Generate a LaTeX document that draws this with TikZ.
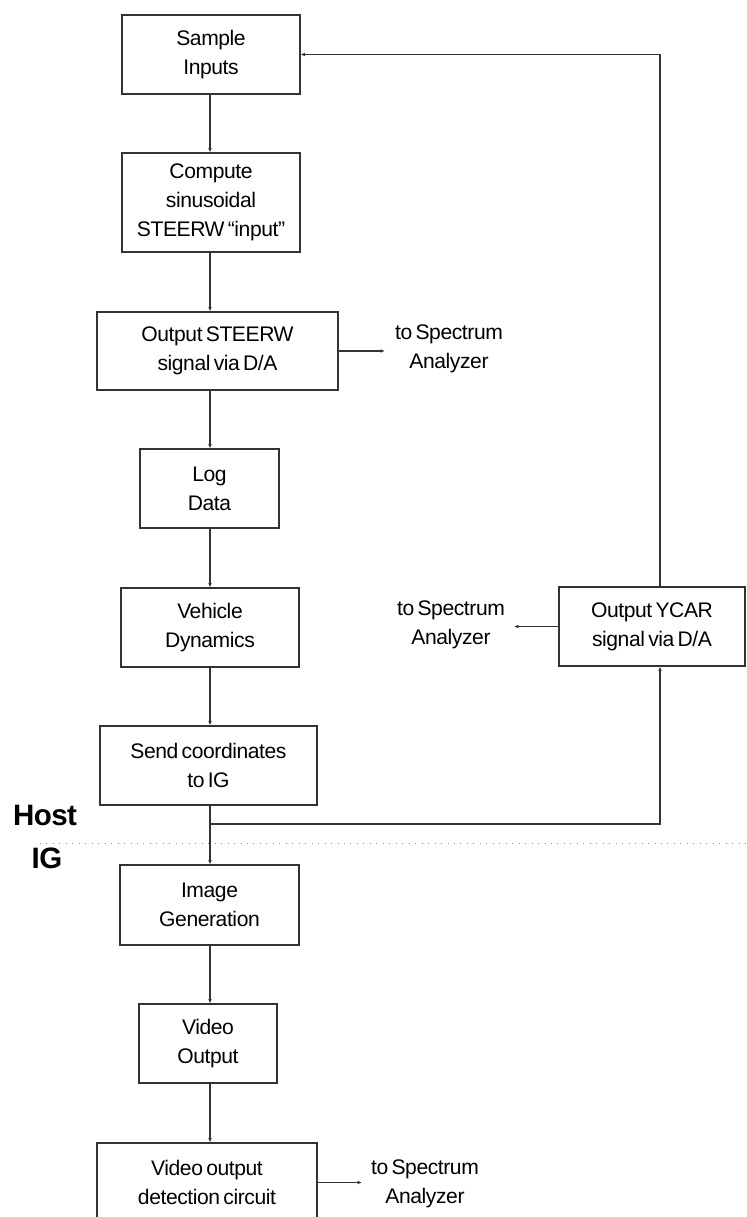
\documentclass[tikz,border=0pt]{standalone}
\usepackage{fontspec}
\setmainfont{Liberation Sans}[WordSpace=0.6,LetterSpace=-2]
\usetikzlibrary{arrows.meta}
\newcommand\pxu{0.025cm}
\tikzset{
  box/.style={draw=black!80, line width=0.9pt, align=center, inner sep=0pt,
    font=\fontsize{15}{20.6}\selectfont},
  lab/.style={align=center, inner sep=0pt, font=\fontsize{15}{20.6}\selectfont},
  side/.style={font=\fontsize{21}{24}\selectfont\bfseries, inner sep=0pt},
  conn/.style={draw=black!80, line width=0.9pt},
  arr/.style={conn, -{Latex[length=3pt,width=2.6pt]}},
}
\begin{document}
\begin{tikzpicture}[x=0.025cm,y=-0.025cm]
\useasboundingbox[fill=white] (0,0) rectangle (747,1217);
% boxes
\node[box, minimum width=178*\pxu, minimum height=79*\pxu] (sample) at (211,54.5) {Sample\\Inputs};
\node[box, minimum width=178*\pxu, minimum height=99*\pxu] (compute) at (211,202.5) {Compute\\sinusoidal\\STEERW “input”};
\node[box, minimum width=241*\pxu, minimum height=78*\pxu] (steerw) at (217.5,351) {Output STEERW\\signal via D/A};
\node[box, minimum width=139*\pxu, minimum height=79*\pxu] (log) at (209.5,488.5) {Log\\Data};
\node[box, minimum width=178*\pxu, minimum height=79*\pxu] (vehicle) at (210,627.5) {Vehicle\\Dynamics};
\node[box, minimum width=217*\pxu, minimum height=79*\pxu] (send) at (208.5,765.5) {Send coordinates\\to IG};
\node[box, minimum width=179*\pxu, minimum height=80*\pxu] (image) at (209.5,905) {Image\\Generation};
\node[box, minimum width=138*\pxu, minimum height=79*\pxu] (video) at (208,1043.5) {Video\\Output};
\node[box, minimum width=220*\pxu, minimum height=79*\pxu] (detect) at (207,1182.5) {Video output\\detection circuit};
\node[box, minimum width=186*\pxu, minimum height=79*\pxu] (ycar) at (652,626.5) {Output YCAR\\signal via D/A};
% labels
\node[lab] (spec1) at (449,349) {to Spectrum\\Analyzer};
\node[lab] (spec2) at (451,625) {to Spectrum\\Analyzer};
\node[lab] (spec3) at (425,1184) {to Spectrum\\Analyzer};
\node[side] (host) at (45,815) {Host};
\node[side] (ig) at (47,858) {IG};
% coordinates
\coordinate (spine) at (210,0);
\coordinate (c1) at (660,54.5);
\coordinate (c2) at (660,824);
\coordinate (j) at (210,824);
\coordinate (d1) at (40,843);
\coordinate (d2) at (747,843);
% main chain
\draw[arr] (sample.south -| spine) -- (compute.north -| spine);
\draw[arr] (compute.south -| spine) -- (steerw.north -| spine);
\draw[arr] (steerw.south -| spine) -- (log.north -| spine);
\draw[arr] (log.south -| spine) -- (vehicle.north -| spine);
\draw[arr] (vehicle.south -| spine) -- (send.north -| spine);
\draw[arr] (send.south -| spine) -- (image.north -| spine);
\draw[arr] (image.south -| spine) -- (video.north -| spine);
\draw[arr] (video.south -| spine) -- (detect.north -| spine);
% spectrum outputs
\draw[arr, shorten >=10*\pxu] (steerw.east) -- (spec1.west |- steerw.east);
\draw[arr, shorten >=9*\pxu] (ycar.west) -- (spec2.east |- ycar.west);
\draw[arr, shorten >=9*\pxu] (detect.east) -- (spec3.west |- detect.east);
% loop
\draw[arr] (j) -- (c2) -- (ycar.south -| c2);
\draw[arr] (ycar.north -| c1) -- (c1) -- (sample.east);
% host / IG divider
\draw[black!45, line width=0.6pt, dash pattern=on 0.6pt off 4pt] (d1) -- (d2);
\end{tikzpicture}
\end{document}
